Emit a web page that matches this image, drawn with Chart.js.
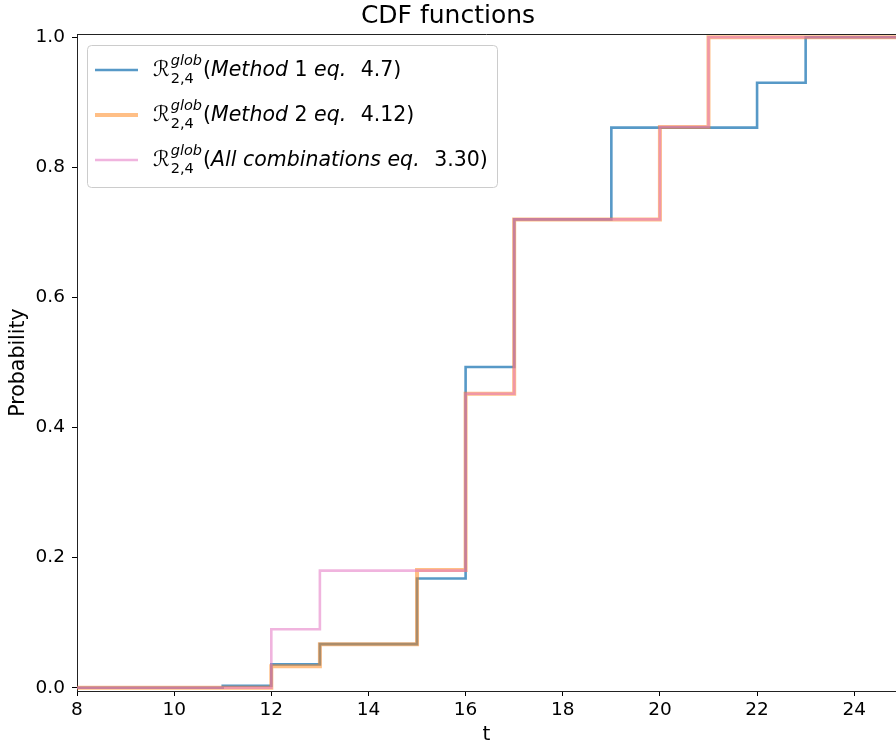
<!DOCTYPE html>
<html>
<head>
<meta charset="utf-8">
<script src="https://cdn.jsdelivr.net/npm/chart.js@4"></script>
<style>
  body { margin: 0; background: #fff; }
  canvas { display: block; background: #fff; }
</style>
</head>
<body>
<canvas id="cdf" width="896" height="747"></canvas>
<script>
// step points (post-step: value holds until next x)
const method1X = [8, 11, 12, 13, 15, 16, 17, 19, 22, 23, 25];
const method1Y = [0, 0.003, 0.036, 0.067, 0.168, 0.493, 0.72, 0.861, 0.930, 1.0, 1.0];
const method2X = [8, 12, 13, 15, 16, 17, 20, 21, 25];
const method2Y = [0, 0.033, 0.067, 0.181, 0.452, 0.72, 0.862, 1.0, 1.0];
const allCombX = [8, 12, 13, 15, 16, 17, 20, 21, 25];
const allCombY = [0, 0.090, 0.180, 0.180, 0.452, 0.72, 0.862, 1.0, 1.0];

const xTicks = [8, 10, 12, 14, 16, 18, 20, 22, 24];
const yTicks = [0, 0.2, 0.4, 0.6, 0.8, 1.0];

const legendLabels = [
  "(Method 1 eq. 4.7)",
  "(Method 2 eq. 4.12)",
  "(All combinations eq. 3.30)",
];

const toPoints = (xs, ys) => xs.map((x, i) => ({ x, y: ys[i] }));
const FONT = "DejaVu Sans";

// legend with math-style label (R^glob_{2,4}) drawn on the canvas
const mathLegend = {
  id: "mathLegend",
  afterDraw(chart) {
    const ctx = chart.ctx;
    const a = chart.chartArea;
    const bx = a.left + 10, by = a.top + 11;
    ctx.save();
    ctx.beginPath();
    ctx.roundRect(bx + 0.5, by + 0.5, 410, 142, 4);
    ctx.fillStyle = "rgba(255,255,255,0.8)";
    ctx.fill();
    ctx.strokeStyle = "#cccccc";
    ctx.lineWidth = 1;
    ctx.stroke();

    chart.data.datasets.forEach((ds, i) => {
      const cy = by + 25 + i * 45;
      ctx.beginPath();
      ctx.moveTo(bx + 8, cy);
      ctx.lineTo(bx + 51, cy);
      ctx.strokeStyle = ds.borderColor;
      ctx.lineWidth = ds.borderWidth;
      ctx.stroke();

      const base = cy + 6;
      let x = bx + 66;
      ctx.fillStyle = "#000";
      ctx.textBaseline = "alphabetic";
      ctx.textAlign = "left";
      ctx.font = "italic 21px " + FONT;
      ctx.fillText("\u211B", x, base);
      x += ctx.measureText("\u211B").width + 1;
      ctx.font = "italic 14.5px " + FONT;
      ctx.fillText("glob", x, base - 11);
      const w1 = ctx.measureText("glob").width;
      ctx.font = "14.5px " + FONT;
      ctx.fillText("2,4", x, base + 7);
      const w2 = ctx.measureText("2,4").width;
      x += Math.max(w1, w2) + 1;

      const tokens = ds.label.split(/(\d+(?:\.\d+)?|[()\s]+)/).filter(t => t.length);
      let prev = "";
      tokens.forEach(t => {
        const upright = /^[\d()\s.]+$/.test(t);
        if (prev === "eq." && /^\s+$/.test(t)) x += 8; // math spacing after "eq."
        ctx.font = (upright ? "" : "italic ") + "20.5px " + FONT;
        ctx.fillText(t, x, base);
        x += ctx.measureText(t).width;
        prev = t;
      });
    });
    ctx.restore();
  },
};

// top spine
const topSpine = {
  id: "topSpine",
  afterDatasetsDraw(chart) {
    const { ctx, chartArea: a } = chart;
    ctx.save();
    ctx.beginPath();
    ctx.moveTo(a.left, a.top + 0.5);
    ctx.lineTo(a.right, a.top + 0.5);
    ctx.strokeStyle = "#222";
    ctx.lineWidth = 1;
    ctx.stroke();
    ctx.restore();
  },
};

new Chart(document.getElementById("cdf"), {
  type: "line",
  data: {
    datasets: [
      {
        label: legendLabels[0],
        data: toPoints(method1X, method1Y),
        borderColor: "rgba(31,119,180,0.75)",
        borderWidth: 2.6,
        stepped: true,
        pointRadius: 0,
        order: 2,
      },
      {
        label: legendLabels[1],
        data: toPoints(method2X, method2Y),
        borderColor: "rgba(255,127,14,0.5)",
        borderWidth: 4,
        stepped: true,
        pointRadius: 0,
        order: 1,
      },
      {
        label: legendLabels[2],
        data: toPoints(allCombX, allCombY),
        borderColor: "rgba(227,119,194,0.55)",
        borderWidth: 2.6,
        stepped: true,
        pointRadius: 0,
        order: 0,
      },
    ],
  },
  options: {
    responsive: false,
    animation: false,
    devicePixelRatio: 1,
    layout: { padding: 0 },
    plugins: {
      legend: { display: false },
      tooltip: { enabled: false },
      title: {
        display: true,
        text: "CDF functions",
        color: "#000",
        font: { family: FONT, size: 25, weight: "normal" },
        padding: { top: 1, bottom: 3 },
      },
    },
    scales: {
      x: {
        type: "linear",
        min: 8,
        max: 24.86,
        afterBuildTicks: (s) => { s.ticks = xTicks.map(v => ({ value: v })); },
        afterFit: (s) => { s.height = 56; },
        grid: { drawOnChartArea: false, tickLength: 5, tickColor: "#000" },
        border: { color: "#222", width: 1 },
        ticks: {
          color: "#000",
          font: { family: FONT, size: 18.5 },
          padding: 3,
          maxRotation: 0,
          callback: (v) => String(v),
        },
        title: {
          display: true,
          text: "t",
          color: "#000",
          font: { family: FONT, size: 20 },
          padding: { top: 1, bottom: 0 },
        },
      },
      y: {
        min: -0.005,
        max: 1.005,
        afterBuildTicks: (s) => { s.ticks = yTicks.map(v => ({ value: v })); },
        afterFit: (s) => { s.width = 77; },
        grid: { drawOnChartArea: false, tickLength: 5, tickColor: "#000" },
        border: { color: "#222", width: 1 },
        ticks: {
          color: "#000",
          font: { family: FONT, size: 18.5 },
          padding: 7,
          callback: (v) => v.toFixed(1),
        },
        title: {
          display: true,
          text: "Probability",
          color: "#000",
          font: { family: FONT, size: 20.5 },
          padding: { top: 6, bottom: 0 },
        },
      },
    },
  },
  plugins: [topSpine, mathLegend],
});
</script>
</body>
</html>
